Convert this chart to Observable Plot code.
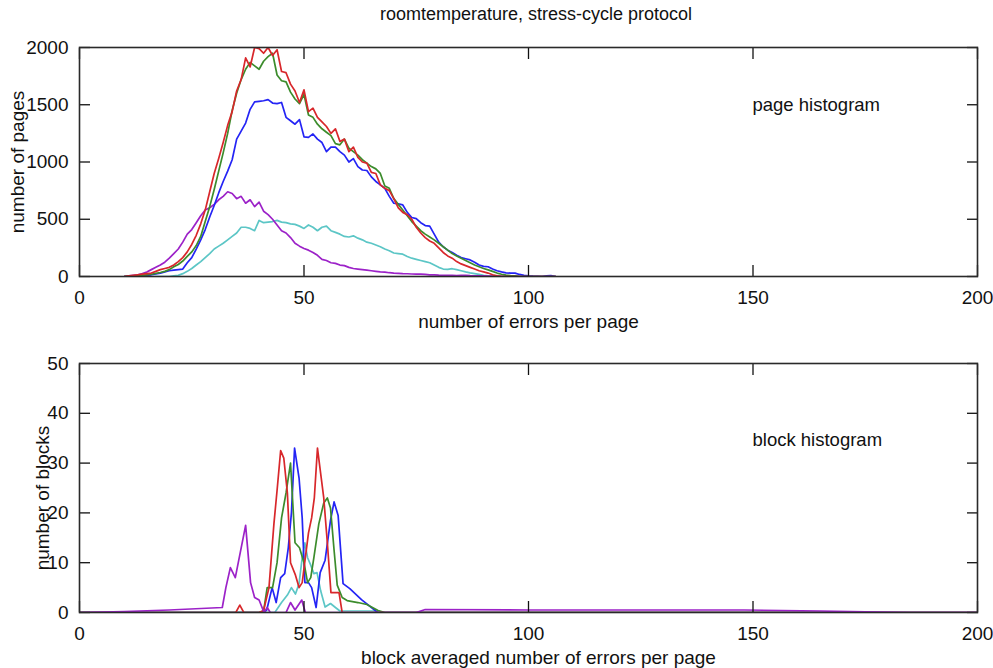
<!DOCTYPE html>
<html>
<head>
<meta charset="utf-8">
<script src="https://cdn.jsdelivr.net/npm/d3@7"></script>
<script src="https://cdn.jsdelivr.net/npm/@observablehq/plot@0.6"></script>
<style>
  body { margin: 0; background: #fff; }
  #chart { position: relative; width: 993px; height: 668px; font-family: "Liberation Sans", Arial, sans-serif; color: #111; }
  #title { position: absolute; left: 79px; width: 914px; top: 0; height: 30px; line-height: 29px; text-align: center; font-size: 18px; }
  #top { position: absolute; left: 0; top: 30px; }
  #bottom { position: absolute; left: 0; top: 340px; }
  svg { overflow: visible; }
</style>
</head>
<body>
<div id="chart">
  <div id="title">roomtemperature, stress-cycle protocol</div>
  <div id="top"></div>
  <div id="bottom"></div>
</div>
<script>
// Axis ticks
const xTicks = [0, 50, 100, 150, 200];
const pageTicks = [0, 500, 1000, 1500, 2000];
const blockTicks = [0, 10, 20, 30, 40, 50];

// Page histogram: number of pages for each error count (bins 10..106)
const pageBins = [10,11,12,13,14,15,16,17,18,19,20,21,22,23,24,25,26,27,28,29,30,31,32,33,34,35,36,37,38,39,40,41,42,43,44,45,46,47,48,49,50,51,52,53,54,55,56,57,58,59,60,61,62,63,64,65,66,67,68,69,70,71,72,73,74,75,76,77,78,79,80,81,82,83,84,85,86,87,88,89,90,91,92,93,94,95,96,97,98,99,100,101,102,103,104,105,106];
const pageRed = [0,5,10,15,20,25,30,45,60,70, 80,100,130,165,215,280,360,460,580,740, 900,1030,1170,1320,1440,1620,1720,1910,1830,2000, 1990,1950,2000,1930,1980,1790,1780,1680,1620,1520, 1630,1440,1470,1390,1350,1310,1250,1290,1180,1200, 1090,1130,1040,1000,990,910,900,800,770,750, 680,600,560,540,500,430,380,340,310,290, 250,210,180,160,130,110,95,80,65,50, 40,30,15,5,0,0,0,0,0,0, 0,0,0,0,0,0,0];
const pageGreen = [0,3,5,8,10,15,20,28,35,45, 60,85,105,135,175,215,270,350,480,610, 760,920,1080,1250,1450,1600,1720,1810,1870,1840, 1810,1880,1920,1950,1760,1710,1700,1610,1550,1510, 1590,1410,1390,1330,1290,1260,1230,1160,1150,1200, 1120,1090,1060,1020,990,960,940,900,790,770, 680,630,580,530,480,440,400,370,345,320, 290,260,230,200,180,160,140,120,100,85, 70,58,45,30,20,12,8,5,0,0, 0,0,0,0,0,0,0];
const pageBlue = [0,0,0,3,5,10,15,22,30,40, 50,55,60,65,120,165,240,320,410,520, 620,730,830,920,1020,1200,1270,1340,1460,1525, 1530,1535,1545,1515,1510,1520,1390,1360,1330,1370, 1220,1215,1245,1200,1170,1090,1130,1130,1090,1060, 1000,1030,960,930,926,870,830,800,770,700, 640,635,625,560,515,505,470,445,440,370, 300,260,230,210,185,165,155,145,125,100, 88,85,65,50,40,32,30,30,18,10, 5,3,2,0,5,8,0];
const pageCyan = [0,0,0,0,0,0,0,0,0,0, 0,5,10,25,45,70,100,130,165,200, 240,265,290,320,350,380,430,430,420,400, 490,470,475,480,490,475,470,460,455,440, 420,450,430,400,430,440,400,385,370,350, 345,355,335,320,300,290,275,260,240,225, 205,200,195,175,160,150,140,130,120,100, 80,65,62,68,60,50,40,32,25,18, 10,5,0,0,0,0,0,0,0,0, 0,0,0,0,0,0,0];
const pagePurple = [0,5,10,15,25,40,60,80,100,125, 160,200,240,300,370,410,470,530,580,600, 630,670,700,740,725,680,700,640,670,610, 650,570,540,500,450,400,380,340,290,265, 245,230,210,185,150,140,120,115,100,95, 80,70,65,60,55,50,45,40,38,33, 30,28,25,24,22,21,20,18,15,14, 12,11,10,9,8,9,10,7,5,5, 5,4,3,3,2,2,1,1,0,0, 0,0,0,0,0,0,0];

// Block histogram: number of blocks for each block-averaged error count
const blockRedX = [0,34.8,35.7,36.6,40,41,42.2,43.3,44,44.8,45.5,46.3,47,48.1,48.9,49.6,50.3,51,51.7,52.3,53,53.7,54.4,55.2,56,57,57.8,58.5,200];
const blockRedY = [0,0,1.5,0,0,0.4,5,17.8,24.5,32.5,31,24,10,7.5,5,6,11,16,19,23,33,28,23,14,4,4,4,0,0];
const blockGreenX = [0,40,41,41.8,43,44,45,46,47,48,49,50,50.8,51.5,52.2,53.3,54.4,55.2,55.9,56.7,57.4,58.5,59.6,62,64,66.5,68,200];
const blockGreenY = [0,0,0.3,5,5,10,19,24,30,14,13,10,6,7,11,17.8,22,23,21,12.5,5.5,3,2.4,2,1.6,0.4,0,0];
const blockBlueX = [0,41,41.7,42.9,43.8,44.8,45.7,46.5,47.2,47.9,48.9,49.6,50.2,51,51.7,52.7,53.6,54.7,55.9,56.7,57.6,58.7,60.2,62.8,66.4,200];
const blockBlueY = [0,0,0.5,5,2,7,7.8,13,20,33,27,19,6,6,5,1,8,10.5,18.5,22.2,19.5,5.8,4.8,2.6,0,0];
const blockCyanX = [0,43.5,45,46.3,47.2,48.1,48.9,49.6,50.2,50.8,51.5,52.2,52.9,53.7,54.7,55.9,57,58,66,67,200];
const blockCyanY = [0,0,2,3.5,5,3.7,5.8,11,14,11,9.5,7.8,8,4.4,1.1,1.8,1,0.3,0.3,0,0];
const blockPurpleX = [0,10,20,31.8,32.6,33.6,34.7,37,38.1,39,40,41.1,41.8,42.5,46,47,48,49.5,50.3,75,77,100,148,165,185,200];
const blockPurpleY = [0,0.2,0.5,1,5,9,7,17.5,6,3,2.5,0,1,0,0,2,0.5,2.5,0,0,0.6,0.5,0.5,0.3,0,0];

const colors = {red: "#d8272b", green: "#3c8c2c", blue: "#2424f5", cyan: "#5cc6c6", purple: "#9c22c8"};
const font = '"Liberation Sans", Arial, sans-serif';

const pageSeries = [
  {name: "cyan", values: pageCyan},
  {name: "purple", values: pagePurple},
  {name: "blue", values: pageBlue},
  {name: "green", values: pageGreen},
  {name: "red", values: pageRed}
];
const blockSeries = [
  {name: "cyan", xs: blockCyanX, ys: blockCyanY},
  {name: "blue", xs: blockBlueX, ys: blockBlueY},
  {name: "green", xs: blockGreenX, ys: blockGreenY},
  {name: "red", xs: blockRedX, ys: blockRedY},
  {name: "purple", xs: blockPurpleX, ys: blockPurpleY}
];

function frameAxes(yTicks, xLabel, xLabelDx, yLabel, yLabelDx, yLabelDy) {
  return [
    // inward ticks on all four sides
    Plot.axisX({anchor: "bottom", ticks: xTicks, tickSize: -11, text: null, label: null, strokeWidth: 1.3}),
    Plot.axisX({anchor: "top", ticks: xTicks, tickSize: -11, text: null, label: null, strokeWidth: 1.3}),
    Plot.axisY({anchor: "left", ticks: yTicks, tickSize: -11, text: null, label: null, strokeWidth: 1.3}),
    Plot.axisY({anchor: "right", ticks: yTicks, tickSize: -11, text: null, label: null, strokeWidth: 1.3}),
    // tick labels
    Plot.axisX({anchor: "bottom", ticks: xTicks, tickSize: 0, tickPadding: 14, label: null, tickFormat: d3.format("d")}),
    Plot.axisY({anchor: "left", ticks: yTicks, tickSize: 0, tickPadding: 11, label: null, tickFormat: d3.format("d")}),
    // axis titles
    Plot.text([xLabel], {frameAnchor: "bottom", dx: xLabelDx, dy: 45, lineAnchor: "middle", fontSize: 19, fill: "#111"}),
    Plot.text([yLabel], {frameAnchor: "left", rotate: -90, dx: yLabelDx, dy: yLabelDy, lineAnchor: "middle", textAnchor: "middle", fontSize: 19, fill: "#111"})
  ];
}

const pagePlot = Plot.plot({
  width: 993, height: 310,
  marginLeft: 79, marginRight: 16, marginTop: 17, marginBottom: 64,
  style: {fontFamily: font, fontSize: "19px", color: "#111", background: "#fff"},
  x: {domain: [0, 200]},
  y: {domain: [0, 2000]},
  marks: [
    ...pageSeries.map(s => Plot.line(pageBins.map((b, i) => ({x: b, y: s.values[i]})),
      {x: "x", y: "y", stroke: colors[s.name], strokeWidth: 1.7, clip: true})),
    Plot.text(["page histogram"], {frameAnchor: "top-left", dx: 673, dy: 58, textAnchor: "start", lineAnchor: "middle", fontSize: 18.5, fill: "#111"}),
    ...frameAxes(pageTicks, "number of errors per page", 0, "number of pages", -62, 0),
    Plot.frame({stroke: "#2a2a2a", strokeWidth: 1.6})
  ]
});
document.getElementById("top").append(pagePlot);

const blockPlot = Plot.plot({
  width: 993, height: 328,
  marginLeft: 79, marginRight: 16, marginTop: 23, marginBottom: 56,
  style: {fontFamily: font, fontSize: "19px", color: "#111", background: "#fff"},
  x: {domain: [0, 200]},
  y: {domain: [0, 50]},
  marks: [
    ...blockSeries.map(s => Plot.line(s.xs.map((x, i) => ({x, y: s.ys[i]})),
      {x: "x", y: "y", stroke: colors[s.name], strokeWidth: 1.7, clip: true})),
    Plot.text(["block histogram"], {frameAnchor: "top-left", dx: 673, dy: 77, textAnchor: "start", lineAnchor: "middle", fontSize: 18.5, fill: "#111"}),
    ...frameAxes(blockTicks, "block averaged number of errors per page", 10, "number of blocks", -37, 10),
    Plot.frame({stroke: "#2a2a2a", strokeWidth: 1.6})
  ]
});
document.getElementById("bottom").append(blockPlot);
</script>
</body>
</html>
